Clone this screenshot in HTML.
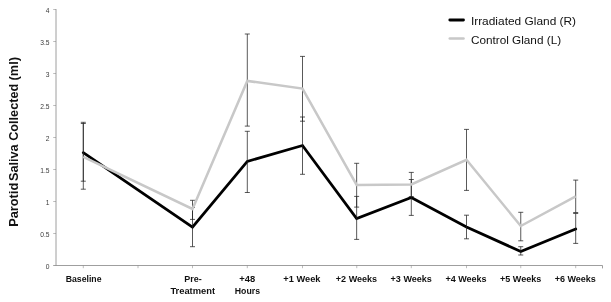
<!DOCTYPE html>
<html><head><meta charset="utf-8"><title>Parotid Saliva Collected</title>
<style>html,body{margin:0;padding:0;background:#fff;}svg{display:block;filter:grayscale(1);}text{font-family:"Liberation Sans",sans-serif;}</style>
</head><body>
<svg width="611" height="302" viewBox="0 0 611 302">
<rect x="0" y="0" width="611" height="302" fill="#ffffff"/>
<g stroke="#868686" stroke-width="0.8" fill="none">
<line x1="56.0" y1="9.0" x2="56.0" y2="265.5"/>
<line x1="53.2" y1="265.5" x2="602.5" y2="265.5"/>
<line x1="53.2" y1="233.50" x2="56.0" y2="233.50" stroke-width="0.55"/>
<line x1="53.2" y1="201.50" x2="56.0" y2="201.50" stroke-width="0.55"/>
<line x1="53.2" y1="169.50" x2="56.0" y2="169.50" stroke-width="0.55"/>
<line x1="53.2" y1="137.50" x2="56.0" y2="137.50" stroke-width="0.55"/>
<line x1="53.2" y1="105.50" x2="56.0" y2="105.50" stroke-width="0.55"/>
<line x1="53.2" y1="73.50" x2="56.0" y2="73.50" stroke-width="0.55"/>
<line x1="53.2" y1="41.50" x2="56.0" y2="41.50" stroke-width="0.55"/>
<line x1="53.2" y1="9.50" x2="56.0" y2="9.50" stroke-width="0.55"/>
<line x1="83.30" y1="265.5" x2="83.30" y2="268.2" stroke-width="0.55"/>
<line x1="138.00" y1="265.5" x2="138.00" y2="268.2" stroke-width="0.55"/>
<line x1="192.50" y1="265.5" x2="192.50" y2="268.2" stroke-width="0.55"/>
<line x1="247.30" y1="265.5" x2="247.30" y2="268.2" stroke-width="0.55"/>
<line x1="302.50" y1="265.5" x2="302.50" y2="268.2" stroke-width="0.55"/>
<line x1="356.75" y1="265.5" x2="356.75" y2="268.2" stroke-width="0.55"/>
<line x1="411.30" y1="265.5" x2="411.30" y2="268.2" stroke-width="0.55"/>
<line x1="466.50" y1="265.5" x2="466.50" y2="268.2" stroke-width="0.55"/>
<line x1="520.75" y1="265.5" x2="520.75" y2="268.2" stroke-width="0.55"/>
<line x1="575.70" y1="265.5" x2="575.70" y2="268.2" stroke-width="0.55"/>
<line x1="602.5" y1="265.5" x2="602.5" y2="268.4"/>
</g>
<g font-size="6.7" fill="#3a3a3a" text-anchor="end">
<text x="49.5" y="268.70">0</text>
<text x="49.5" y="236.70">0.5</text>
<text x="49.5" y="204.70">1</text>
<text x="49.5" y="172.70">1.5</text>
<text x="49.5" y="140.70">2</text>
<text x="49.5" y="108.70">2.5</text>
<text x="49.5" y="76.70">3</text>
<text x="49.5" y="44.70">3.5</text>
<text x="49.5" y="12.70">4</text>
</g>
<polyline points="83.30,152.70 192.50,227.20 247.30,161.40 302.50,145.50 356.65,218.50 411.30,197.50 466.50,227.00 520.75,251.50 575.70,229.00" fill="none" stroke="#000" stroke-width="2.8" stroke-linejoin="miter" stroke-linecap="round"/>
<g stroke="#222222" stroke-width="0.75" fill="none">
<path d="M83.30 123.50V181.20M80.80 123.50H85.80M80.80 181.20H85.80"/>
<path d="M192.50 207.50V246.70M190.00 207.50H195.00M190.00 246.70H195.00"/>
<path d="M247.30 131.30V192.50M244.80 131.30H249.80M244.80 192.50H249.80"/>
<path d="M302.50 117.00V174.30M300.00 117.00H305.00M300.00 174.30H305.00"/>
<path d="M356.65 196.40V239.40M354.15 196.40H359.15M354.15 239.40H359.15"/>
<path d="M411.30 179.50V215.40M408.80 179.50H413.80M408.80 215.40H413.80"/>
<path d="M466.50 215.20V238.80M464.00 215.20H469.00M464.00 238.80H469.00"/>
<path d="M520.75 246.70V255.00M518.25 246.70H523.25M518.25 255.00H523.25"/>
<path d="M575.70 213.50V243.40M573.20 213.50H578.20M573.20 243.40H578.20"/>
<path d="M83.30 122.30V189.20M80.80 122.30H85.80M80.80 189.20H85.80"/>
<path d="M192.50 200.30V219.40M190.00 200.30H195.00M190.00 219.40H195.00"/>
<path d="M247.30 34.00V126.10M244.80 34.00H249.80M244.80 126.10H249.80"/>
<path d="M302.50 56.40V121.20M300.00 56.40H305.00M300.00 121.20H305.00"/>
<path d="M356.65 163.30V207.10M354.15 163.30H359.15M354.15 207.10H359.15"/>
<path d="M411.30 172.40V196.60M408.80 172.40H413.80M408.80 196.60H413.80"/>
<path d="M466.50 129.40V190.40M464.00 129.40H469.00M464.00 190.40H469.00"/>
<path d="M520.75 212.30V240.80M518.25 212.30H523.25M518.25 240.80H523.25"/>
<path d="M575.70 180.10V212.50M573.20 180.10H578.20M573.20 212.50H578.20"/>
</g>
<polyline points="83.30,156.80 192.50,209.00 247.30,80.90 302.50,88.60 356.65,184.90 411.30,184.50 466.50,159.80 520.75,226.00 575.70,196.40" fill="none" stroke="#c8c8c8" stroke-width="2.5" stroke-linejoin="miter" stroke-linecap="butt"/>
<g font-size="8.8" font-weight="bold" fill="#111" text-anchor="middle">
<text x="83.60" y="282.20" textLength="35.8" lengthAdjust="spacingAndGlyphs">Baseline</text>
<text x="193.00" y="282.20" textLength="17.5" lengthAdjust="spacingAndGlyphs">Pre-</text>
<text x="192.70" y="293.80" textLength="44.6" lengthAdjust="spacingAndGlyphs">Treatment</text>
<text x="247.20" y="282.20" textLength="15.9" lengthAdjust="spacingAndGlyphs">+48</text>
<text x="247.40" y="293.80" textLength="25.2" lengthAdjust="spacingAndGlyphs">Hours</text>
<text x="301.90" y="282.20" textLength="37.1" lengthAdjust="spacingAndGlyphs">+1 Week</text>
<text x="356.45" y="282.20" textLength="41.2" lengthAdjust="spacingAndGlyphs">+2 Weeks</text>
<text x="411.20" y="282.20" textLength="41.2" lengthAdjust="spacingAndGlyphs">+3 Weeks</text>
<text x="466.00" y="282.20" textLength="41.2" lengthAdjust="spacingAndGlyphs">+4 Weeks</text>
<text x="520.60" y="282.20" textLength="41.2" lengthAdjust="spacingAndGlyphs">+5 Weeks</text>
<text x="575.30" y="282.20" textLength="41.2" lengthAdjust="spacingAndGlyphs">+6 Weeks</text>
</g>
<g font-size="13" font-weight="bold" fill="#111">
<text transform="translate(18.4 226.8) rotate(-90)" textLength="44.0" lengthAdjust="spacingAndGlyphs">Parotid</text>
<text transform="translate(18.4 181.0) rotate(-90)" textLength="36.5" lengthAdjust="spacingAndGlyphs">Saliva</text>
<text transform="translate(18.4 140.8) rotate(-90)" textLength="57.0" lengthAdjust="spacingAndGlyphs">Collected</text>
<text transform="translate(18.4 80.5) rotate(-90)" textLength="23.5" lengthAdjust="spacingAndGlyphs">(ml)</text>
</g>
<line x1="449.8" y1="20.0" x2="463.5" y2="20.0" stroke="#000" stroke-width="2.8" stroke-linecap="round"/>
<line x1="449.8" y1="38.5" x2="463.5" y2="38.5" stroke="#c8c8c8" stroke-width="2.6" stroke-linecap="round"/>
<g font-size="11" fill="#111">
<text x="470.9" y="24.6" textLength="105.2" lengthAdjust="spacingAndGlyphs">Irradiated Gland (R)</text>
<text x="470.9" y="43.5" textLength="90.2" lengthAdjust="spacingAndGlyphs">Control Gland (L)</text>
</g>
</svg>
</body></html>
